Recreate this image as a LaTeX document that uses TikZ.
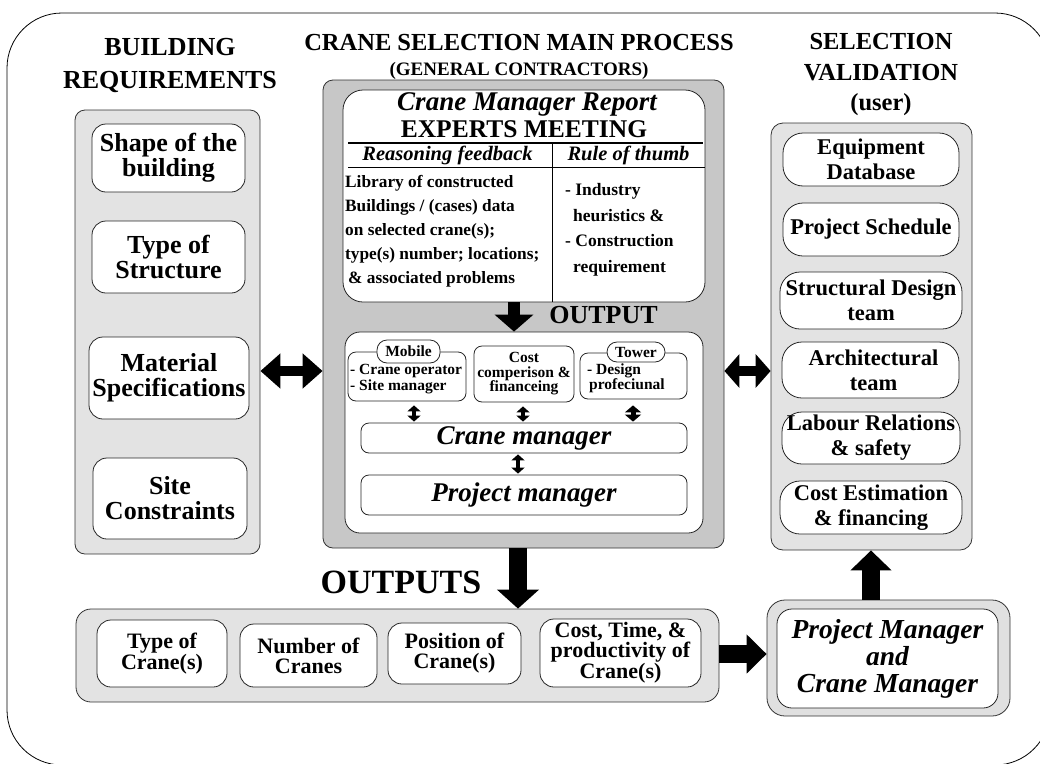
\documentclass[tikz,border=0pt]{standalone}
\usepackage{fontspec}
\setmainfont{Liberation Serif}
\usetikzlibrary{arrows.meta}
\newcommand\setfs[2]{\fontsize{#1}{#2}\selectfont}
\begin{document}
\begin{tikzpicture}[x=1pt,y=-1pt,
  title/.style={anchor=base,inner sep=0pt},
  panel/.style={draw=black!80,line width=0.8pt,rounded corners=10pt,fill=black!11,inner sep=0pt},
  cpanel/.style={draw=black!80,line width=0.8pt,rounded corners=10pt,fill=black!22,inner sep=0pt},
  wbox/.style={draw=black!85,line width=0.8pt,fill=white,rounded corners=14pt,align=center,inner sep=0pt},
  lbox/.style={wbox,font=\bfseries\setfs{26}{25}},
  rbox/.style={wbox,rounded corners=20pt,font=\bfseries\setfs{22.5}{25}},
  obox/.style={wbox,font=\bfseries\setfs{22}{20}},
  sbox/.style={wbox,rounded corners=8pt,font=\bfseries\setfs{15.5}{14.5}},
  pill/.style={wbox,rounded corners=10pt,font=\bfseries\setfs{15.5}{15}},
  mbox/.style={wbox,rounded corners=8pt,font=\bfseries\itshape\setfs{27}{27}},
  txt/.style={inner sep=0pt,align=left},
  dblarrow/.style={line width=10pt,{Triangle[length=20pt,width=34pt]}-{Triangle[length=20pt,width=34pt]}},
  smallarrow/.style={line width=4pt,{Triangle[length=6pt,width=13pt]}-{Triangle[length=6pt,width=13pt]}},
  bigarrow/.style={line width=18pt,-{Triangle[length=20pt,width=40pt]}}
]
\useasboundingbox (0,0) rectangle (1040,763);
\clip (0,0) rectangle (1040,763);
\draw[line width=0.8pt,rounded corners=55pt] (7,13) rectangle (1050,765);

% titles
\node[title,font=\bfseries\setfs{26}{30}] (tbA) at (170,55) {BUILDING};
\node[title,font=\bfseries\setfs{26}{30}] (tbB) at (170,88) {REQUIREMENTS};
\node[title,font=\bfseries\setfs{24.5}{28}] (tcA) at (519,50) {CRANE SELECTION MAIN PROCESS};
\node[title,font=\bfseries\setfs{19}{22}] (tcB) at (519,75) {(GENERAL CONTRACTORS)};
\node[title,font=\bfseries\setfs{24.5}{27}] (trA) at (881,49) {SELECTION};
\node[title,font=\bfseries\setfs{24.5}{27}] (trB) at (881,80) {VALIDATION};
\node[title,font=\bfseries\setfs{24.5}{27}] (trC) at (881,110) {(user)};

% left panel
\node[panel,minimum width=185pt,minimum height=444pt] (lp) at (167.5,332) {};
\node[lbox,minimum width=153pt,minimum height=68pt] (shape) at (168.5,158) {Shape of the\\building};
\node[lbox,minimum width=153pt,minimum height=72pt] (type) at (168.5,257) {Type of\\Structure};
\node[lbox,minimum width=160pt,minimum height=82pt] (mat) at (169,378) {Material\\Specifications};
\node[lbox,minimum width=154pt,minimum height=81pt] (site) at (170,498.5) {Site\\Constraints};

% center panel
\node[cpanel,minimum width=401pt,minimum height=468pt] (cp) at (523.5,314) {};
\node[wbox,rounded corners=20pt,minimum width=362pt,minimum height=212pt] (rep) at (524,196) {};
\node[title,font=\bfseries\itshape\setfs{27}{30}] (repA) at (527,110) {Crane Manager Report};
\node[title,font=\bfseries\setfs{25.5}{30}] (repB) at (524,137) {EXPERTS MEETING};
\draw[line width=2pt] (348,143) -- (703,143);
\draw[line width=0.6pt] (348,167) -- (rep.east |- 0,167);
\draw[line width=0.6pt] (552,143) -- (552,302);
\node[title,font=\bfseries\itshape\setfs{20.5}{24}] (rf) at (447.5,160) {Reasoning feedback};
\node[title,font=\bfseries\itshape\setfs{20.5}{24}] (rt) at (628.5,160) {Rule of thumb};
\node[txt,anchor=north west,font=\bfseries\setfs{17.3}{24}] (lib) at (345,175.2)
  {Library of constructed\\Buildings / (cases) data\\on selected crane(s);\\type(s) number; locations;\\\hspace*{3pt}\& associated problems};
\node[txt,anchor=north west,font=\bfseries\setfs{17.5}{25.5}] (heu) at (565,183.2)
  {- Industry\\\hspace*{8pt}heuristics \&\\- Construction\\\hspace*{8pt}requirement};

% output section
\node[wbox,rounded corners=15pt,minimum width=358pt,minimum height=201pt] (ob) at (524,432.5) {};
\coordinate (ax) at (514,0);
\draw[line width=12pt,-{Triangle[length=17pt,width=38pt]}] (rep.south -| ax) -- (ob.north -| ax);
\node[title,font=\bfseries\setfs{26}{30}] (outl) at (603.5,323) {OUTPUT};

\node[sbox,minimum width=118pt,minimum height=49pt] (mob) at (407,376.5) {};
\node[txt,anchor=north west,font=\bfseries\setfs{15.5}{14}] (mobt) at (350,364.5) {- Crane operator\\- Site manager};
\node[pill,minimum width=63pt,minimum height=23pt] (mobl) at (408.5,351.5) {Mobile};
\node[sbox,minimum width=100pt,minimum height=56pt] (cost) at (524,374) {Cost\\comperison \&\\financeing};
\node[sbox,minimum width=107pt,minimum height=46pt] (tow) at (633.5,376) {};
\node[txt,anchor=north west,font=\bfseries\setfs{15.5}{15}] (towt) at (587,363.7) {- Design\\\hspace*{2pt}profeciunal};
\node[pill,minimum width=58pt,minimum height=20pt] (towl) at (636,352) {Tower};

\node[mbox,minimum width=326pt,minimum height=30pt] (cm) at (524,438) {Crane manager};
\node[mbox,minimum width=326pt,minimum height=40pt] (pm) at (524,495) {Project manager};

\coordinate (s1) at (414,0);
\coordinate (s2) at (523,0);
\coordinate (s3) at (633,0);
\coordinate (s4) at (518,0);
\draw[smallarrow,shorten <=4pt,shorten >=1pt] (mob.south -| s1) -- (cm.north -| s1);
\draw[smallarrow,shorten <=4pt,shorten >=1pt] (cost.south -| s2) -- (cm.north -| s2);
\draw[smallarrow,line width=5pt,{Triangle[length=7pt,width=16pt]}-{Triangle[length=7pt,width=16pt]},shorten <=6pt,shorten >=1pt] (tow.south -| s3) -- (cm.north -| s3);
\draw[smallarrow,shorten <=1pt,shorten >=1pt] (cm.south -| s4) -- (pm.north -| s4);

% right panel
\node[panel,rounded corners=12pt,minimum width=201pt,minimum height=427pt] (rp) at (871.5,336.5) {};
\node[rbox,minimum width=176pt,minimum height=53pt] (eq) at (871,159.5) {Equipment\\Database};
\node[rbox,minimum width=176pt,minimum height=53pt] (ps) at (871,229.5) {Project Schedule};
\node[rbox,minimum width=182pt,minimum height=57pt] (sd) at (871,300.5) {Structural Design\\team};
\node[rbox,minimum width=177pt,minimum height=56pt] (ar) at (870.5,370) {\hspace*{6pt}Architectural\\\hspace*{6pt}team};
\node[rbox,minimum width=178pt,minimum height=52pt] (lr) at (871,438) {Labour Relations\\\& safety};
\node[rbox,minimum width=182pt,minimum height=53pt] (ce) at (871,507.5) {Cost Estimation\\\& financing};

% side double arrows
\coordinate (ay) at (0,371);
\draw[dblarrow] (lp.east |- ay) -- (cp.west |- ay);
\draw[dblarrow,{Triangle[length=15pt,width=33pt]}-{Triangle[length=15pt,width=33pt]}] (cp.east |- ay) -- (rp.west |- ay);

% bottom
\node[panel,rounded corners=15pt,minimum width=643pt,minimum height=93pt] (bp) at (397.5,655.5) {};
\node[obox,minimum width=130pt,minimum height=67pt] (tc) at (162,653.5) {Type of\\Crane(s)};
\node[obox,minimum width=137pt,minimum height=63pt] (nc) at (308.5,655.5) {Number of\\Cranes};
\node[obox,minimum width=133pt,minimum height=61pt] (pc) at (454.5,653.5) {Position of\\Crane(s)};
\node[obox,minimum width=161pt,minimum height=68pt] (cc) at (620.5,653) {Cost, Time, \&\\productivity of\\Crane(s)};
\node[title,font=\bfseries\setfs{34}{36}] (outs) at (401,593) {OUTPUTS};

\node[panel,rounded corners=18pt,fill=black!12,minimum width=243pt,minimum height=116pt] (pmo) at (888.5,658) {};
\node[wbox,rounded corners=15pt,minimum width=221pt,minimum height=99pt,font=\bfseries\itshape\setfs{27.5}{27}] (pmi) at (887.5,658.5) {Project Manager\\and\\Crane Manager};

\coordinate (bx) at (518,0);
\coordinate (by) at (0,654);
\coordinate (ux) at (871,0);
\draw[bigarrow,-{Triangle[length=19pt,width=41pt]}] (cp.south -| bx) -- (bp.north -| bx);
\draw[bigarrow,-{Triangle[length=20pt,width=38pt]}] (bp.east |- by) -- (pmo.west |- by);
\draw[bigarrow] (pmo.north -| ux) -- (rp.south -| ux);
\end{tikzpicture}
\end{document}
